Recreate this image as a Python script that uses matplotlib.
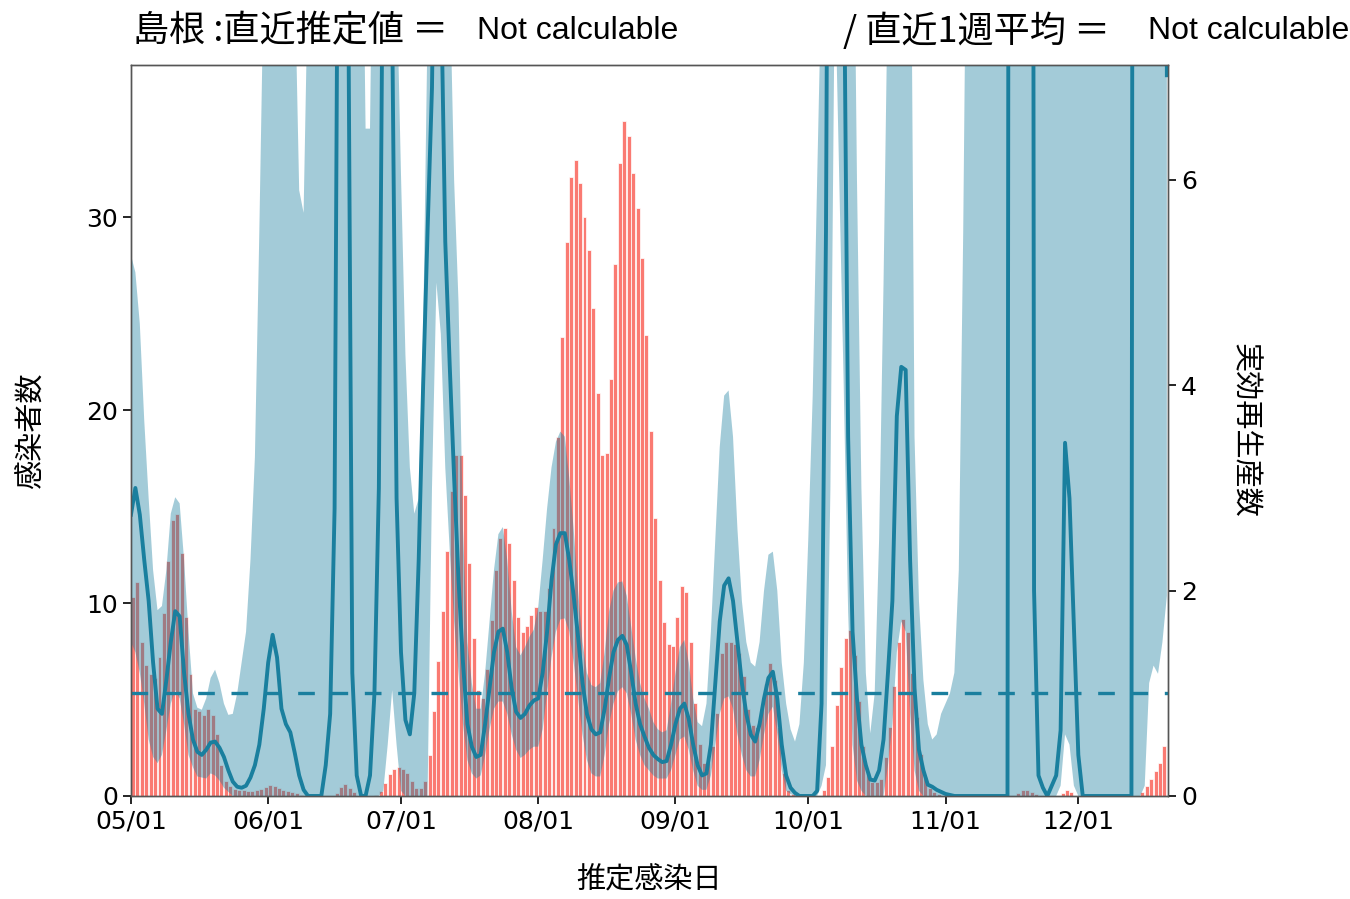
import matplotlib
matplotlib.use("Agg")
import matplotlib.pyplot as plt
import matplotlib.dates as mdates
import numpy as np
import pandas as pd

plt.rcParams['font.family'] = ['DejaVu Sans', 'Noto Sans CJK JP']

# daily estimated infections, 2020-05-01 .. 2020-12-21
infected = [
    # May
    10.3, 11.1, 8.0, 6.8, 6.3, 6.1, 7.2, 9.5, 12.2, 14.3, 14.6, 12.6, 9.3, 6.3, 4.5, 4.4,
    4.2, 4.5, 4.2, 3.2, 1.6, 0.8, 0.5, 0.35, 0.3, 0.3, 0.25, 0.25, 0.3, 0.35, 0.45,
    # Jun
    0.55, 0.5, 0.4, 0.3, 0.25, 0.2, 0.15, 0.05, 0, 0, 0, 0, 0, 0, 0, 0.15, 0.45, 0.6, 0.4,
    0.2, 0, 0, 0, 0, 0.05, 0.25, 0.65, 1.15, 1.4, 1.5,
    # Jul
    1.4, 1.2, 0.8, 0.4, 0.4, 0.8, 2.1, 4.4, 7.0, 9.6, 12.7, 15.8, 17.7, 17.7, 15.6, 12.1,
    8.2, 5.5, 5.1, 6.6, 9.1, 11.7, 13.4, 13.9, 13.1, 11.2, 9.3, 8.5, 8.8, 9.4, 9.8,
    # Aug
    9.6, 9.6, 10.8, 13.9, 18.6, 23.8, 28.7, 32.1, 33.0, 31.8, 30.0, 28.3, 25.3, 20.9, 17.7,
    17.8, 21.6, 27.6, 32.8, 35.0, 34.2, 32.3, 30.5, 27.9, 23.9, 18.9, 14.4, 11.2, 9.0, 7.9, 7.8,
    # Sep
    9.3, 10.9, 10.6, 8.0, 4.8, 2.7, 1.7, 1.7, 2.6, 4.3, 7.4, 8.0, 8.0, 7.9, 7.4, 6.2, 4.5,
    3.7, 3.6, 4.5, 5.8, 6.9, 6.0, 3.6, 1.2, 0.3, 0.1, 0, 0, 0,
    # Oct
    0, 0, 0, 0.3, 1.0, 2.6, 4.7, 6.7, 8.2, 8.6, 7.3, 4.9, 2.6, 1.2, 0.7, 0.7, 0.9, 2.0,
    3.6, 5.7, 8.0, 9.2, 8.5, 6.4, 4.1, 2.2, 1.0, 0.4, 0.2, 0.1, 0,
    # Nov
    0, 0, 0, 0, 0, 0, 0, 0, 0, 0, 0, 0, 0, 0, 0, 0, 0.15, 0.3, 0.3, 0.2, 0.1, 0, 0, 0, 0,
    0, 0.15, 0.3, 0.2, 0,
    # Dec
    0, 0, 0, 0, 0, 0, 0, 0, 0, 0, 0, 0, 0, 0, 0.2, 0.5, 0.9, 1.3, 1.7, 2.6, 0,
]

# effective reproduction number (median) and its credible band
r_mid = [
    2.74, 3.0, 2.74, 2.3, 1.9, 1.3, 0.85, 0.8, 1.13, 1.5, 1.8, 1.75, 1.2, 0.8, 0.55, 0.43,
    0.4, 0.45, 0.52, 0.53, 0.47, 0.38, 0.25, 0.14, 0.09, 0.08, 0.1, 0.18, 0.3, 0.5, 0.85,
    1.3, 1.57, 1.35, 0.85, 0.7, 0.62, 0.42, 0.2, 0.06, 0, 0, 0, 0, 0.3, 0.8, 2.8, 11, 25,
    8.5, 1.2, 0.2, 0, 0, 0.2, 1.0, 3.0, 9, 20, 7.6, 2.9,
    1.4, 0.74, 0.6, 1.0, 2.3, 4.0, 5.5, 6.9, 10, 8.0, 5.4, 4.2, 3.1, 2.1, 1.3, 0.7, 0.48,
    0.38, 0.4, 0.7, 1.05, 1.4, 1.6, 1.63, 1.4, 1.05, 0.82, 0.76, 0.8, 0.88, 0.93,
    0.95, 1.2, 1.6, 2.1, 2.45, 2.56, 2.56, 2.3, 1.95, 1.55, 1.1, 0.8, 0.65, 0.6, 0.62,
    0.85, 1.15, 1.4, 1.52, 1.56, 1.47, 1.2, 0.9, 0.7, 0.58, 0.47, 0.4, 0.36, 0.33, 0.34, 0.5,
    0.7, 0.85, 0.9, 0.75, 0.5, 0.3, 0.2, 0.22, 0.5, 1.1, 1.7, 2.05, 2.12, 1.9, 1.5, 1.1,
    0.8, 0.6, 0.53, 0.7, 0.95, 1.15, 1.21, 0.95, 0.5, 0.2, 0.08, 0.03, 0, 0,
    0, 0, 0.05, 0.9, 5.5, 15, 20, 15, 8.5, 3.5, 1.6, 0.95, 0.5, 0.3, 0.16, 0.15, 0.25, 0.55,
    1.2, 1.9, 3.7, 4.18, 4.15, 2.3, 1.05, 0.45, 0.25, 0.11, 0.09, 0.06, 0.04,
    0.02, 0.01, 0, 0, 0, 0, 0, 0, 0, 0, 0, 0, 0, 0, 0, 40, 50, 50, 50, 40, 2.0, 0.2, 0.08,
    0, 0.1, 0.2, 0.64, 3.44, 2.9, 1.65,
    0.4, 0, 0, 0, 0, 0, 0, 0, 0, 0, 0, 0, 0, 40, 50, 50, 50, 50, 50, 30, 7.02,
]

r_upper = [
    5.27, 5.1, 4.6, 3.66, 2.9, 2.2, 1.81, 1.85, 2.2, 2.75, 2.91, 2.85, 2.3, 1.6, 1.0, 0.86,
    0.84, 0.95, 1.15, 1.23, 1.1, 0.9, 0.79, 0.8, 1.0, 1.3, 1.6, 2.3, 3.3, 5.5, 8,
    10, 10, 10, 10, 10, 10, 8, 5.9, 5.68, 8, 10, 10, 10, 10, 10, 10, 30, 60, 30, 10, 10, 10,
    6.5, 6.5, 10, 10, 30, 50, 30, 8,
    6.05, 4.3, 3.2, 2.75, 2.9, 4.5, 7.5, 10, 20, 20, 10, 8, 6, 4.8, 2.6, 1.5, 1.1, 0.85,
    0.85, 1.2, 1.7, 2.2, 2.55, 2.62, 2.3, 1.8, 1.45, 1.37, 1.45, 1.55, 1.62,
    1.84, 2.3, 2.8, 3.2, 3.45, 3.55, 3.5, 3.1, 2.6, 2.0, 1.5, 1.2, 1.08, 1.06, 1.1, 1.4,
    1.8, 2.0, 2.08, 2.09, 1.95, 1.65, 1.35, 1.1, 0.95, 0.85, 0.72, 0.65, 0.62, 0.64, 0.9,
    1.2, 1.45, 1.52, 1.3, 0.95, 0.72, 0.68, 0.9, 1.6, 2.5, 3.4, 3.9, 3.95, 3.5, 2.6, 1.9,
    1.5, 1.3, 1.26, 1.5, 2.0, 2.35, 2.38, 2.0, 1.3, 0.9, 0.65, 0.53, 0.7, 1.3,
    2.5, 3.9, 6, 8, 20, 40, 50, 40, 20, 10, 10, 6, 3, 1.2, 0.61, 1.0, 2.5, 5, 8, 10, 10, 10,
    10, 10, 3.5, 1.9, 1.13, 0.7, 0.55, 0.6, 0.8,
    0.9, 1.0, 1.2, 2.2, 5.5, 10, 10, 10, 10, 10, 10, 10, 10, 10, 10, 100, 100, 100, 100, 100,
    10, 10, 10, 10, 10, 10, 10, 10, 10, 10,
    10, 10, 10, 10, 10, 10, 10, 10, 10, 10, 10, 10, 10, 100, 100, 100, 100, 100, 100, 100, 100,
]

r_lower = [
    1.5, 1.4, 1.2, 0.9, 0.55, 0.38, 0.32, 0.4, 0.64, 0.9, 1.03, 0.95, 0.7, 0.4, 0.28, 0.19,
    0.18, 0.17, 0.22, 0.2, 0.15, 0.08, 0.04, 0, 0, 0, 0, 0, 0, 0, 0,
    0, 0, 0, 0, 0, 0, 0, 0, 0, 0, 0, 0, 0, 0, 0, 0, 0, 0, 0, 0, 0, 0, 0, 0, 0, 0, 0.05, 0.5,
    1.03, 0.5,
    0.05, 0, 0, 0, 0, 0, 0, 3, 5, 4.5, 3.2, 2.4, 1.7, 1.2, 0.7, 0.35, 0.22, 0.17, 0.2, 0.4,
    0.65, 0.85, 0.92, 0.92, 0.8, 0.6, 0.45, 0.37, 0.4, 0.45, 0.48,
    0.48, 0.65, 1.0, 1.35, 1.6, 1.72, 1.73, 1.6, 1.3, 0.95, 0.6, 0.35, 0.22, 0.19, 0.19, 0.4,
    0.7, 0.9, 1.02, 1.06, 1.0, 0.8, 0.55, 0.4, 0.3, 0.25, 0.2, 0.17, 0.17, 0.17, 0.25,
    0.4, 0.55, 0.58, 0.45, 0.25, 0.1, 0.06, 0.06, 0.2, 0.5, 0.8, 0.95, 0.97, 0.85, 0.6, 0.4,
    0.25, 0.19, 0.19, 0.35, 0.6, 0.8, 0.87, 0.6, 0.25, 0.05, 0.02, 0, 0, 0,
    0, 0, 0, 0.1, 0.3, 3, 8, 6, 4, 1.8, 0.5, 0.15, 0.05, 0, 0, 0, 0, 0, 0.3, 0.7, 1.4,
    1.7, 1.6, 0.8, 0.25, 0.05, 0, 0, 0, 0, 0,
    0, 0, 0, 0, 0, 0, 0, 0, 0, 0, 0, 0, 0, 0, 0, 0, 0, 0, 0, 0, 0, 0, 0, 0, 0, 0, 0.1,
    0.6, 0.5, 0.1,
    0, 0, 0, 0, 0, 0, 0, 0, 0, 0, 0, 0, 0, 0, 0, 0.1, 1.1, 1.27, 1.19, 1.5, 1.95,
]

dates = pd.date_range('2020-05-01', periods=len(infected), freq='D')

bar_color = '#fa7a72'
line_color = '#1a7f9e'

fig = plt.figure(figsize=(13.5, 8.99), dpi=100)
ax = fig.add_axes([0.097, 0.1146, 0.768, 0.8131])
ax2 = ax.twinx()

ax.bar(dates, infected, width=0.9, align='edge', color=bar_color,
       edgecolor='white', linewidth=0.5)
ax2.fill_between(dates, r_lower, r_upper, color=line_color, alpha=0.4, linewidth=0)
ax2.plot(dates, r_mid, color=line_color, linewidth=2.8)
ax2.axhline(1.0, color=line_color, linewidth=2.4, linestyle=(0, (5, 5)))

ax.set_xlim(dates[0], dates[0] + pd.Timedelta(days=234.2))
ax.set_ylim(0, 37.9)
ax2.set_ylim(0, 7.12)
ax.set_yticks([0, 10, 20, 30])
ax2.set_yticks([0, 2, 4, 6])

ax.xaxis.set_major_locator(mdates.MonthLocator())
ax.xaxis.set_major_formatter(mdates.DateFormatter('%m/%d'))

for a in (ax, ax2):
    a.tick_params(labelsize=18, length=6, width=1.2)
    for s in a.spines.values():
        s.set_color('#555555')
        s.set_linewidth(1.0)

jp = ['Noto Sans CJK JP', 'DejaVu Sans']
ax.set_xlabel('推定感染日', fontsize=21, family=jp, labelpad=23)
ax.set_ylabel('感染者数', fontsize=21, family=jp, labelpad=28)
ax2.set_ylabel('実効再生産数', fontsize=21, family=jp, rotation=270, labelpad=45)

fig.text(133 / 1350, 1 - 31 / 899, '島根 :直近推定値 ＝', fontsize=26, family=jp,
         va='center', ha='left')
fig.text(477 / 1350, 1 - 31 / 899, 'Not calculable', fontsize=23,
         family=['Liberation Sans'], va='center', ha='left')
fig.text(843 / 1350, 1 - 31 / 899, '/ 直近1週平均 ＝', fontsize=26, family=jp,
         va='center', ha='left')
fig.text(1148 / 1350, 1 - 31 / 899, 'Not calculable', fontsize=23,
         family=['Liberation Sans'], va='center', ha='left')

fig.savefig('out.png', dpi=100)
